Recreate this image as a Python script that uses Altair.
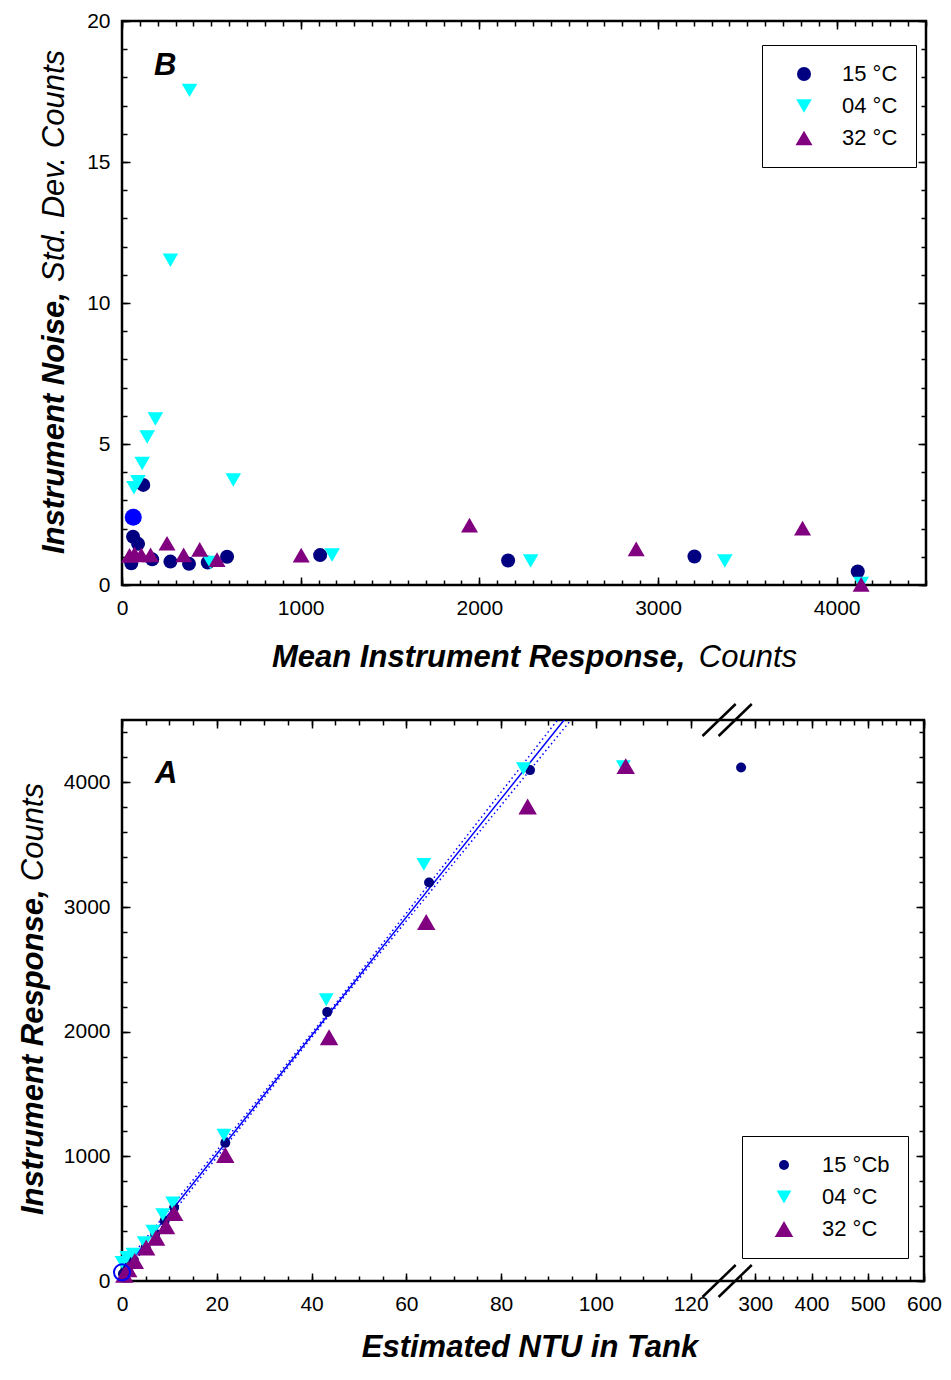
import altair as alt
import pandas as pd

FONT = "Liberation Sans"
NAVY, CYAN, PURPLE, BLUE = "#000080", "#00FFFF", "#800080", "#0000FF"

# ---- panel B: instrument noise against mean response ----
B_TEMPS = ["15 °C", "04 °C", "32 °C"]
B_15_MEAN = [52, 62, 90, 119, 169, 271, 375, 480, 588, 1109, 2161, 3204, 4118]
B_15_NOISE = [0.77, 1.71, 1.46, 3.55, 0.91, 0.83, 0.75, 0.80, 1.00, 1.06, 0.87, 1.01, 0.48]
B_04_MEAN = [67, 89, 113, 141, 187, 271, 378, 495, 623, 1176, 2287, 3374, 4137]
B_04_NOISE = [3.45, 3.66, 4.31, 5.25, 5.89, 11.52, 17.54, 0.80, 3.72, 1.06, 0.85, 0.85, 0.05]
B_32_MEAN = [42, 70, 108, 160, 252, 345, 435, 532, 1003, 1945, 2878, 3809, 4137]
B_32_NOISE = [1.05, 1.10, 1.07, 1.07, 1.48, 1.07, 1.26, 0.90, 1.06, 2.12, 1.28, 2.02, 0.02]
B_ZERO_MEAN = [63]
B_ZERO_NOISE = [2.40]

# ---- panel A: response against turbidity ----
A_TEMPS = ["15 °Cb", "04 °C", "32 °C"]
A_15_NTU = [0.2, 0.5, 1.0, 1.5, 2.5, 5.0, 7.0, 9.0, 11.0, 21.8, 43.3, 64.8, 86.1, 274.8]
A_15_COUNTS = [57, 70, 95, 119, 169, 271, 378, 484, 590, 1108, 2157, 3197, 4098, 4119]
A_04_NTU = [0.0, 1.0, 2.3, 4.7, 6.5, 8.6, 10.7, 21.5, 43.1, 63.7, 84.7, 105.8]
A_04_COUNTS = [150, 190, 215, 308, 400, 533, 626, 1169, 2256, 3342, 4110, 4125]
A_32_NTU = [0.5, 1.3, 2.7, 5.1, 7.2, 9.3, 11.0, 21.8, 43.7, 64.2, 85.6, 106.3]
A_32_COUNTS = [50, 95, 161, 268, 347, 440, 546, 1010, 1956, 2879, 3807, 4130]
A_ZERO_NTU = [0.0]
A_ZERO_COUNTS = [70]
FIT_NTU = [0, 95]
FIT_COUNTS = [69, 4581]
BAND_NTU = [0, 45, 95]
BAND_UPPER = [105, 2222, 4650]
BAND_LOWER = [33, 2192, 4512]

# broken NTU axis: 0-125 kept as is, 250-600 squeezed in after a small gap
BREAK_LO, BREAK_HI, GAP, RIGHT_K = 125, 250, 2.7, 0.1187


def axis_pos(ntu):
    return ntu if ntu <= BREAK_LO else BREAK_LO + GAP + (ntu - BREAK_HI) * RIGHT_K


U_EXPR = f"datum.ntu <= {BREAK_LO} ? datum.ntu : {BREAK_LO + GAP} + (datum.ntu - {BREAK_HI}) * {RIGHT_K}"
U_LABELS = (f"datum.value <= {BREAK_LO + 0.5} ? format(datum.value, 'd') : "
            f"format({BREAK_HI} + (datum.value - {BREAK_LO + GAP}) / {RIGHT_K}, '.0f')")

B_W, B_H = 804, 564
A_W, A_H = 802, 561
TITLE_SIZE = 31
LABEL_SIZE = 21


def label_axis(values, pad, **kw):
    return alt.Axis(values=values, ticks=False, tickSize=0, domain=False, grid=False, format="d",
                    labelFont=FONT, labelFontSize=LABEL_SIZE, labelColor="black", labelPadding=pad,
                    labelFlush=False, labelOverlap=False, minExtent=0, **kw)


def tick_axis(orient, values, length):
    return alt.Axis(orient=orient, values=values, tickSize=length, offset=-length, minExtent=0,
                    tickColor="black", tickWidth=1.5, labels=False, domain=False, grid=False)


def frame_ticks(xf, yf, xs, ys, x_major, x_minor, y_major, y_minor):
    data = pd.DataFrame({xf: xs.domain, yf: ys.domain})
    layers = []
    for xv, yv, length, xo, yo in [(x_major, y_major, 8, "bottom", "left"),
                                   (x_minor, y_minor, 5, "bottom", "left"),
                                   (x_major, y_major, 8, "top", "right"),
                                   (x_minor, y_minor, 5, "top", "right")]:
        layers.append(alt.Chart(data).mark_point(opacity=0).encode(
            x=alt.X(f"{xf}:Q", scale=xs, title=None, axis=tick_axis(xo, xv, length)),
            y=alt.Y(f"{yf}:Q", scale=ys, title=None, axis=tick_axis(yo, yv, length)),
        ))
    return layers


def text(t, x, y, align="left", angle=0, bold=True, size=TITLE_SIZE):
    return alt.Chart(pd.DataFrame({"t": [t]})).mark_text(
        font=FONT, fontSize=size, fontStyle="italic", fontWeight="bold" if bold else "normal",
        align=align, baseline="alphabetic", angle=angle, color="black",
    ).encode(text="t:N", x=alt.value(x), y=alt.value(y))


def legend(x, y):
    return alt.Legend(title=None, orient="none", legendX=x, legendY=y, padding=18,
                      symbolOffset=13, labelOffset=27, rowPadding=10,
                      labelFont=FONT, labelFontSize=22, labelColor="black",
                      strokeColor="black", fillColor="white")


def series_encoding(temps, sizes, leg):
    return dict(
        color=alt.Color("temp:N", scale=alt.Scale(domain=temps, range=[NAVY, CYAN, PURPLE]), legend=leg),
        shape=alt.Shape("temp:N", scale=alt.Scale(domain=temps, range=["circle", "triangle-down", "triangle-up"]), legend=leg),
        size=alt.Size("temp:N", scale=alt.Scale(domain=temps, range=sizes), legend=leg),
    )


# ---------------- panel B ----------------
b_df = pd.DataFrame({
    "mean": B_15_MEAN + B_04_MEAN + B_32_MEAN,
    "noise": B_15_NOISE + B_04_NOISE + B_32_NOISE,
    "temp": [B_TEMPS[0]] * len(B_15_MEAN) + [B_TEMPS[1]] * len(B_04_MEAN) + [B_TEMPS[2]] * len(B_32_MEAN),
})
b_x = alt.Scale(domain=[0, 4500], nice=False)
b_y = alt.Scale(domain=[0, 20], nice=False)
B_X_MAJOR = [0, 1000, 2000, 3000, 4000]
B_Y_MAJOR = [0, 5, 10, 15, 20]

b_points = alt.Chart(b_df).mark_point(filled=True, opacity=1).encode(
    x=alt.X("mean:Q", scale=b_x, title=None, axis=label_axis(B_X_MAJOR, 12)),
    y=alt.Y("noise:Q", scale=b_y, title=None, axis=label_axis(B_Y_MAJOR, 12)),
    **series_encoding(B_TEMPS, [196, 289, 289], legend(640, 24)),
)
b_zero = alt.Chart(pd.DataFrame({"mean": B_ZERO_MEAN, "noise": B_ZERO_NOISE})).mark_circle(
    color=BLUE, size=289, opacity=1
).encode(x=alt.X("mean:Q", scale=b_x, axis=None), y=alt.Y("noise:Q", scale=b_y, axis=None))

panel_b = alt.layer(
    *frame_ticks("mean", "noise", b_x, b_y, B_X_MAJOR, list(range(0, 4501, 100)), B_Y_MAJOR, list(range(0, 21))),
    b_points, b_zero,
    text("B", 32, 54),
    text("Mean Instrument Response,", 150, B_H + 82),
    text("Counts", 675, B_H + 82, align="right", bold=False),
    text("Instrument Noise,", -58, 533, angle=270),
    text("Std. Dev. Counts", -58, 29, align="right", angle=270, bold=False),
).resolve_axis(x="independent", y="independent").properties(width=B_W, height=B_H)

# ---------------- panel A ----------------
a_df = pd.DataFrame({
    "ntu": A_15_NTU + A_04_NTU + A_32_NTU,
    "counts": A_15_COUNTS + A_04_COUNTS + A_32_COUNTS,
    "temp": [A_TEMPS[0]] * len(A_15_NTU) + [A_TEMPS[1]] * len(A_04_NTU) + [A_TEMPS[2]] * len(A_32_NTU),
})
a_x = alt.Scale(domain=[0, axis_pos(600)], nice=False)
a_y = alt.Scale(domain=[0, 4500], nice=False)
A_X_MAJOR = [axis_pos(v) for v in [0, 20, 40, 60, 80, 100, 120, 300, 400, 500, 600]]
A_X_MINOR = [axis_pos(v) for v in list(range(0, 121, 5)) + list(range(275, 601, 25))]
A_Y_MAJOR = [0, 1000, 2000, 3000, 4000]

a_points = alt.Chart(a_df).transform_calculate(u=U_EXPR).mark_point(filled=True, opacity=1).encode(
    x=alt.X("u:Q", scale=a_x, title=None, axis=label_axis(A_X_MAJOR, 12, labelExpr=U_LABELS)),
    y=alt.Y("counts:Q", scale=a_y, title=None, axis=label_axis(A_Y_MAJOR, 12)),
    **series_encoding(A_TEMPS, [100, 340, 340], legend(620, 416)),
)

fit_df = pd.DataFrame({"ntu": FIT_NTU, "counts": FIT_COUNTS})
fit = alt.Chart(fit_df).transform_calculate(u=U_EXPR).mark_line(
    color=BLUE, strokeWidth=1.5, clip=True
).encode(x=alt.X("u:Q", scale=a_x, axis=None), y=alt.Y("counts:Q", scale=a_y, axis=None))

band_df = pd.DataFrame({
    "ntu": BAND_NTU + BAND_NTU,
    "counts": BAND_UPPER + BAND_LOWER,
    "side": ["upper"] * len(BAND_NTU) + ["lower"] * len(BAND_NTU),
})
band = alt.Chart(band_df).transform_calculate(u=U_EXPR).mark_line(
    color=BLUE, strokeWidth=1.5, strokeDash=[1.5, 3], clip=True
).encode(x=alt.X("u:Q", scale=a_x, axis=None), y=alt.Y("counts:Q", scale=a_y, axis=None), detail="side:N")

a_zero = alt.Chart(pd.DataFrame({"ntu": A_ZERO_NTU, "counts": A_ZERO_COUNTS})).transform_calculate(
    u=U_EXPR
).mark_point(shape="circle", filled=False, color=BLUE, strokeWidth=2, size=256, opacity=1).encode(
    x=alt.X("u:Q", scale=a_x, axis=None), y=alt.Y("counts:Q", scale=a_y, axis=None)
)

# "//" axis-break marks, top and bottom
brk_df = pd.DataFrame({"x1": [BREAK_LO - 2.5, BREAK_LO + 0.9], "x2": [BREAK_LO + 4.5, BREAK_LO + 7.9]})
breaks = [
    alt.Chart(brk_df).mark_rule(color="black", strokeWidth=2.5).encode(
        x=alt.X("x1:Q", scale=a_x, axis=None), x2="x2:Q", y=alt.value(y0 + 16), y2=alt.value(y0 - 16)
    )
    for y0 in (0, A_H)
]

panel_a = alt.layer(
    *frame_ticks("u", "counts", a_x, a_y, A_X_MAJOR, A_X_MINOR, A_Y_MAJOR, list(range(0, 4501, 200))),
    fit, band, a_points, a_zero, *breaks,
    text("A", 33, 63),
    text("Estimated NTU in Tank", 408, A_H + 76, align="center"),
    text("Instrument Response,", -79, 495, angle=270),
    text("Counts", -79, 63, align="right", angle=270, bold=False),
).resolve_axis(x="independent", y="independent").properties(width=A_W, height=A_H)

chart = alt.vconcat(panel_b, panel_a, spacing=135, bounds="flush").resolve_scale(
    x="independent", y="independent", color="independent", shape="independent", size="independent"
).configure_view(
    stroke="black", strokeWidth=2.5
).properties(
    padding={"left": 8, "top": 0, "right": 0, "bottom": 0}
)

chart.save("out.html", embed_options={"renderer": "svg", "actions": False})
